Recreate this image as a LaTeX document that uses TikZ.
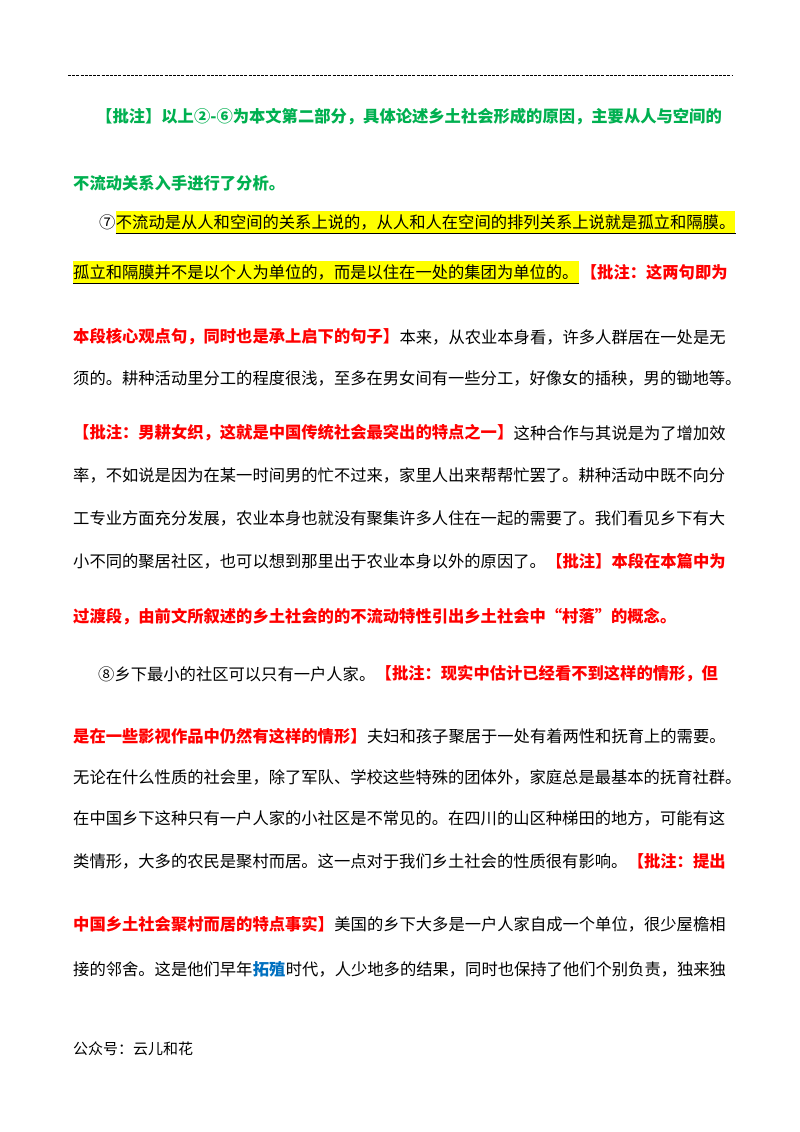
\documentclass[tikz,border=0pt]{standalone}
\usepackage{fontspec}
\setmainfont{Noto Sans CJK SC}
\newfontfamily\cjkb{Noto Sans CJK SC}[BoldFont={* Bold}]
\definecolor{grn}{RGB}{0,176,80}
\definecolor{rd}{RGB}{255,0,0}
\definecolor{bl}{RGB}{0,112,192}
\definecolor{hl}{RGB}{255,255,0}
\tikzset{ln/.style={anchor=west,inner sep=0pt,font=\fontsize{16.3}{20}\selectfont},
 gr/.style={ln,text=grn,font=\fontsize{16.3}{20}\selectfont\bfseries},
 rdb/.style={ln,text=rd,font=\fontsize{16.3}{20}\selectfont\bfseries},
 hil/.style={ln,fill=hl,inner ysep=3pt}}
\begin{document}
\begin{tikzpicture}[x=1pt,y=1pt]
\useasboundingbox[fill=white] (0,0) rectangle (800,-1132);
\coordinate (d1) at (68,-75); \coordinate (d2) at (733,-75);
\draw[dash pattern=on 3pt off 1.2pt, line width=0.8pt] (d1) -- (d2);
\node[gr] (l1) at (96,-117) {【批注】以上②-⑥为本文第二部分，具体论述乡土社会形成的原因，主要从人与空间的};
\node[gr] (l2) at (73,-183) {不流动关系入手进行了分析。};
\node[ln] (l3a) at (99,-222) {⑦};
\node[hil] (l3b) at (l3a.east) {不流动是从人和空间的关系上说的，从人和人在空间的排列关系上说就是孤立和隔膜。};
\draw[line width=0.8pt] (l3b.south west) -- (l3b.south east);
\node[hil] (l4a) at (73,-272) {孤立和隔膜并不是以个人为单位的，而是以住在一处的集团为单位的。};
\draw[line width=0.8pt] (l4a.south west) -- (l4a.south east);
\node[rdb] (l4b) at ([xshift=2pt]l4a.east) {【批注：这两句即为};
\node[rdb] (l5a) at (73,-337) {本段核心观点句，同时也是承上启下的句子】};
\node[ln] (l5b) at (l5a.east) {本来，从农业本身看，许多人群居在一处是无};
\node[ln] (l6) at (73,-378) {须的。耕种活动里分工的程度很浅，至多在男女间有一些分工，好像女的插秧，男的锄地等。};
\node[rdb] (l7a) at (73,-433) {【批注：男耕女织，这就是中国传统社会最突出的特点之一】};
\node[ln] (l7b) at (l7a.east) {这种合作与其说是为了增加效};
\node[ln] (l8) at (73,-475) {率，不如说是因为在某一时间男的忙不过来，家里人出来帮帮忙罢了。耕种活动中既不向分};
\node[ln] (l9) at (73,-518) {工专业方面充分发展，农业本身也就没有聚集许多人住在一起的需要了。我们看见乡下有大};
\node[ln] (l10a) at (73,-561) {小不同的聚居社区，也可以想到那里出于农业本身以外的原因了。};
\node[rdb] (l10b) at (l10a.east) {【批注】本段在本篇中为};
\node[rdb] (l11) at (73,-617) {过渡段，由前文所叙述的乡土社会的的不流动特性引出乡土社会中“村落”的概念。};
\node[ln] (l12a) at (98,-674) {⑧乡下最小的社区可以只有一户人家。};
\node[rdb] (l12b) at (l12a.east) {【批注：现实中估计已经看不到这样的情形，但};
\node[rdb] (l13a) at (73,-736) {是在一些影视作品中仍然有这样的情形】};
\node[ln] (l13b) at (l13a.east) {夫妇和孩子聚居于一处有着两性和抚育上的需要。};
\node[ln] (l14) at (73,-777) {无论在什么性质的社会里，除了军队、学校这些特殊的团体外，家庭总是最基本的抚育社群。};
\node[ln] (l15) at (73,-818) {在中国乡下这种只有一户人家的小社区是不常见的。在四川的山区种梯田的地方，可能有这};
\node[ln] (l16a) at (73,-861) {类情形，大多的农民是聚村而居。这一点对于我们乡土社会的性质很有影响。};
\node[rdb] (l16b) at (l16a.east) {【批注：提出};
\node[rdb] (l17a) at (73,-924) {中国乡土社会聚村而居的特点事实】};
\node[ln] (l17b) at (l17a.east) {美国的乡下大多是一户人家自成一个单位，很少屋檐相};
\node[ln] (l18a) at (73,-969) {接的邻舍。这是他们早年};
\node[ln,text=bl,font=\fontsize{16.3}{20}\selectfont\bfseries] (l18b) at (l18a.east) {拓殖};
\node[ln] (l18c) at (l18b.east) {时代，人少地多的结果，同时也保持了他们个别负责，独来独};
\node[ln,font=\fontsize{15}{18}\selectfont] (ft) at (73,-1049) {公众号：云儿和花};
\end{tikzpicture}
\end{document}
